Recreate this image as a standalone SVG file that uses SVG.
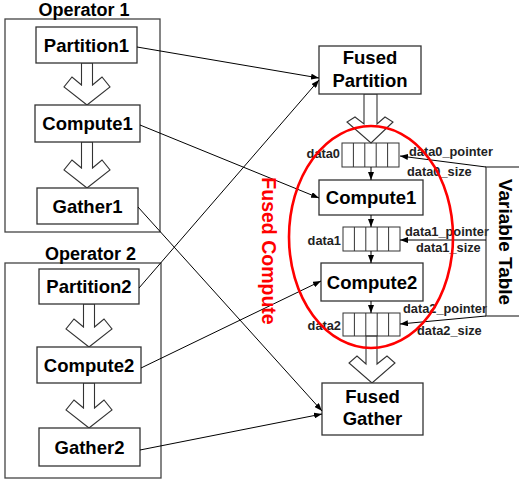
<svg xmlns="http://www.w3.org/2000/svg" width="519" height="482" viewBox="0 0 519 482">
<defs>
<style>
.box{fill:#fff;stroke:#333;stroke-width:1.3}
.grp{fill:none;stroke:#444;stroke-width:1.3}
.t{font-family:"Liberation Sans",Arial,Helvetica,sans-serif;font-weight:bold;font-size:18.5px;fill:#000;text-anchor:middle}
.s{font-family:"Liberation Sans",Arial,Helvetica,sans-serif;font-weight:bold;font-size:12.8px;fill:#222}
.ln{fill:none;stroke:#000;stroke-width:1}
.hollow{fill:#fff;stroke:#333;stroke-width:1.1}
.cell{fill:none;stroke:#333;stroke-width:1}
</style>
<marker id="ah" viewBox="0 0 8 6" refX="8" refY="3" markerWidth="8" markerHeight="6" markerUnits="userSpaceOnUse" orient="auto">
<path d="M0,0 L8,3 L0,6 z" fill="#000"/>
</marker>
</defs>
<rect width="519" height="482" fill="#fff"/>

<g id="operator1">
<rect class="grp" x="5" y="19" width="155" height="213"/>
<text class="t" x="84" y="15.5" style="font-size:18px">Operator 1</text>
</g>
<g id="operator2">
<rect class="grp" x="5" y="263" width="156" height="215"/>
<text class="t" x="90.5" y="259.5" style="font-size:18px">Operator 2</text>
</g>

<g id="hollow-arrows">
<path class="hollow" d="M81.5,63 V85 L72,77 L64,87 L87,105 L110,87 L102,77 L92.5,85 V63 Z"/>
<path class="hollow" d="M81.5,142 V168 L72,160 L64,170 L87,188 L110,170 L102,160 L92.5,168 V142 Z"/>
<path class="hollow" d="M83.5,304 V327 L74,319 L66,329 L89,347 L112,329 L104,319 L94.5,327 V304 Z"/>
<path class="hollow" d="M83.5,383 V408 L74,400 L66,410 L89,428 L112,410 L104,400 L94.5,408 V383 Z"/>
<path class="hollow" d="M364,94 V124 L355,117 L347,122 L371,143 L393,122 L385,117 L377,124 V94 Z"/>
<path class="hollow" d="M366,336 V364 L357,356 L349,363 L372,383 L395,363 L387,356 L377,364 V336 Z"/>
</g>

<g id="partition1"><rect class="box" x="36" y="27" width="101" height="36"/><text class="t" x="86.5" y="51.5">Partition1</text></g>
<g id="compute1"><rect class="box" x="35" y="105" width="105" height="37"/><text class="t" x="87.5" y="130">Compute1</text></g>
<g id="gather1"><rect class="box" x="37" y="188" width="101" height="36"/><text class="t" x="87.5" y="212.5">Gather1</text></g>
<g id="partition2"><rect class="box" x="39" y="269" width="100" height="35"/><text class="t" x="89" y="293">Partition2</text></g>
<g id="compute2"><rect class="box" x="37" y="347" width="104" height="36"/><text class="t" x="89" y="371.5">Compute2</text></g>
<g id="gather2"><rect class="box" x="39" y="428" width="101" height="38"/><text class="t" x="89.5" y="454">Gather2</text></g>

<g id="fused-partition"><rect class="box" x="319" y="46" width="102" height="48"/><text class="t" x="370" y="64">Fused</text><text class="t" x="370" y="87">Partition</text></g>
<g id="fused-compute1"><rect class="box" x="319" y="180" width="104" height="35"/><text class="t" x="371" y="204">Compute1</text></g>
<g id="fused-compute2"><rect class="box" x="321" y="263" width="102" height="38"/><text class="t" x="372" y="289">Compute2</text></g>
<g id="fused-gather"><rect class="box" x="322" y="383" width="101" height="52"/><text class="t" x="372.5" y="403">Fused</text><text class="t" x="372.5" y="425">Gather</text></g>

<g id="data0">
<rect class="cell" x="342" y="143" width="57" height="24"/>
<path class="cell" d="M353.4,143 V167 M364.8,143 V167 M376.2,143 V167 M387.6,143 V167"/>
<text class="s" x="340" y="158" text-anchor="end">data0</text>
<text class="s" x="409" y="156">data0_pointer</text>
<text class="s" x="407" y="176">data0_size</text>
</g>
<g id="data1">
<rect class="cell" x="343" y="227" width="57" height="24"/>
<path class="cell" d="M354.4,227 V251 M365.8,227 V251 M377.2,227 V251 M388.6,227 V251"/>
<text class="s" x="341" y="245" text-anchor="end">data1</text>
<text class="s" x="405" y="236">data1_pointer</text>
<text class="s" x="416" y="252">data1_size</text>
</g>
<g id="data2">
<rect class="cell" x="343" y="313" width="57" height="23"/>
<path class="cell" d="M354.4,313 V336 M365.8,313 V336 M377.2,313 V336 M388.6,313 V336"/>
<text class="s" x="341" y="330" text-anchor="end">data2</text>
<text class="s" x="403" y="313">data2_pointer</text>
<text class="s" x="417" y="335">data2_size</text>
</g>

<g id="variable-table">
<rect class="grp" x="486" y="167" width="50" height="149"/>
<text class="t" transform="translate(505,242) rotate(90)" y="6.5" style="font-size:19px">Variable Table</text>
</g>

<g id="connectors">
<line class="ln" x1="137" y1="47" x2="319" y2="78" marker-end="url(#ah)"/>
<line class="ln" x1="139" y1="288" x2="319" y2="80" marker-end="url(#ah)"/>
<line class="ln" x1="140" y1="125" x2="319" y2="198" marker-end="url(#ah)"/>
<line class="ln" x1="141" y1="368" x2="321" y2="281" marker-end="url(#ah)"/>
<line class="ln" x1="138" y1="207" x2="322" y2="411" marker-end="url(#ah)"/>
<line class="ln" x1="140" y1="450" x2="322" y2="414" marker-end="url(#ah)"/>
<line class="ln" x1="371" y1="167" x2="371" y2="180" marker-end="url(#ah)"/>
<line class="ln" x1="371" y1="215" x2="371" y2="227" marker-end="url(#ah)"/>
<line class="ln" x1="371" y1="251" x2="371" y2="263" marker-end="url(#ah)"/>
<line class="ln" x1="371" y1="301" x2="371" y2="313" marker-end="url(#ah)"/>
<line class="ln" x1="486" y1="167" x2="400" y2="156" marker-end="url(#ah)"/>
<line class="ln" x1="486" y1="240" x2="400" y2="240" marker-end="url(#ah)"/>
<line class="ln" x1="486" y1="316" x2="400" y2="324" marker-end="url(#ah)"/>
</g>

<g id="fused-compute">
<ellipse cx="371" cy="237" rx="82" ry="111" fill="none" stroke="#f00" stroke-width="2.6"/>
<text class="t" transform="translate(268.5,251) rotate(90)" y="7" style="font-size:19.5px;fill:#f00">Fused Compute</text>
</g>
</svg>
